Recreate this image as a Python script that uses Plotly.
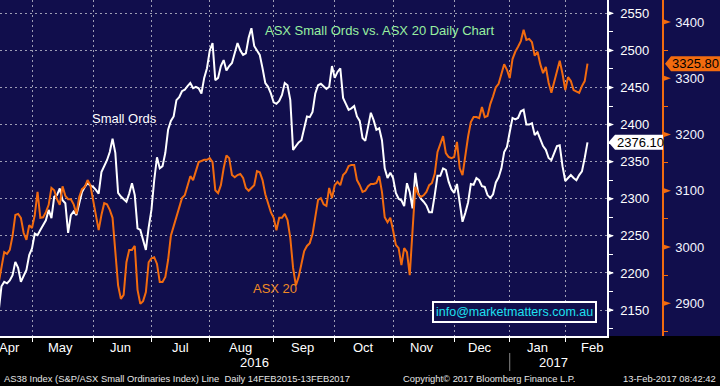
import plotly.graph_objects as go

# ---------------- data ----------------
dates = [
    "2016-04-13", "2016-04-14", "2016-04-15", "2016-04-18", "2016-04-19", "2016-04-20", "2016-04-21", "2016-04-22",
    "2016-04-26", "2016-04-27", "2016-04-28", "2016-04-29",
    "2016-05-02", "2016-05-03", "2016-05-04", "2016-05-05", "2016-05-06", "2016-05-09", "2016-05-10", "2016-05-11",
    "2016-05-12", "2016-05-13", "2016-05-16", "2016-05-17", "2016-05-18", "2016-05-19", "2016-05-20", "2016-05-23",
    "2016-05-24", "2016-05-25", "2016-05-26", "2016-05-27", "2016-05-30", "2016-05-31",
    "2016-06-01", "2016-06-02", "2016-06-03", "2016-06-06", "2016-06-07", "2016-06-08", "2016-06-09", "2016-06-10",
    "2016-06-14", "2016-06-15", "2016-06-16", "2016-06-17", "2016-06-20", "2016-06-21", "2016-06-22", "2016-06-23",
    "2016-06-24", "2016-06-27", "2016-06-28", "2016-06-29", "2016-06-30",
    "2016-07-01", "2016-07-04", "2016-07-05", "2016-07-06", "2016-07-07", "2016-07-08", "2016-07-11", "2016-07-12",
    "2016-07-13", "2016-07-14", "2016-07-15", "2016-07-18", "2016-07-19", "2016-07-20", "2016-07-21", "2016-07-22",
    "2016-07-25", "2016-07-26", "2016-07-27", "2016-07-28", "2016-07-29",
    "2016-08-01", "2016-08-02", "2016-08-03", "2016-08-04", "2016-08-05", "2016-08-08", "2016-08-09", "2016-08-10",
    "2016-08-11", "2016-08-12", "2016-08-15", "2016-08-16", "2016-08-17", "2016-08-18", "2016-08-19", "2016-08-22",
    "2016-08-23", "2016-08-24", "2016-08-25", "2016-08-26", "2016-08-29", "2016-08-30", "2016-08-31",
    "2016-09-01", "2016-09-02", "2016-09-05", "2016-09-06", "2016-09-07", "2016-09-08", "2016-09-09", "2016-09-12",
    "2016-09-13", "2016-09-14", "2016-09-15", "2016-09-16", "2016-09-19", "2016-09-20", "2016-09-21", "2016-09-22",
    "2016-09-23", "2016-09-26", "2016-09-27", "2016-09-28", "2016-09-29", "2016-09-30",
    "2016-10-03", "2016-10-04", "2016-10-05", "2016-10-06", "2016-10-07", "2016-10-10", "2016-10-11", "2016-10-12",
    "2016-10-13", "2016-10-14", "2016-10-17", "2016-10-18", "2016-10-19", "2016-10-20", "2016-10-21", "2016-10-24",
    "2016-10-25", "2016-10-26", "2016-10-27", "2016-10-28", "2016-10-31",
    "2016-11-01", "2016-11-02", "2016-11-03", "2016-11-04", "2016-11-07", "2016-11-08", "2016-11-09", "2016-11-10",
    "2016-11-11", "2016-11-14", "2016-11-15", "2016-11-16", "2016-11-17", "2016-11-18", "2016-11-21", "2016-11-22",
    "2016-11-23", "2016-11-24", "2016-11-25", "2016-11-28", "2016-11-29", "2016-11-30",
    "2016-12-01", "2016-12-02", "2016-12-05", "2016-12-06", "2016-12-07", "2016-12-08", "2016-12-09", "2016-12-12",
    "2016-12-13", "2016-12-14", "2016-12-15", "2016-12-16", "2016-12-19", "2016-12-20", "2016-12-21", "2016-12-22",
    "2016-12-23", "2016-12-28", "2016-12-29", "2016-12-30",
    "2017-01-03", "2017-01-04", "2017-01-05", "2017-01-06", "2017-01-09", "2017-01-10", "2017-01-11", "2017-01-12",
    "2017-01-13", "2017-01-16", "2017-01-17", "2017-01-18", "2017-01-19", "2017-01-20", "2017-01-23", "2017-01-24",
    "2017-01-25", "2017-01-27", "2017-01-30", "2017-01-31",
    "2017-02-01", "2017-02-02", "2017-02-03", "2017-02-06", "2017-02-07", "2017-02-08", "2017-02-09", "2017-02-10",
    "2017-02-13",
]

small_ords = [
    2148, 2182, 2188, 2186, 2190, 2197, 2215, 2207,
    2188, 2196, 2204, 2224,
    2233, 2253, 2251, 2258, 2265, 2271, 2285, 2274,
    2303, 2305, 2314, 2298, 2294, 2254, 2278, 2283,
    2278, 2292, 2309, 2316, 2321, 2318,
    2316, 2312, 2307, 2336, 2343, 2352, 2363, 2381,
    2362, 2308, 2303, 2300, 2296, 2307, 2321, 2305,
    2260, 2258, 2244, 2231, 2261,
    2285, 2325, 2356, 2341, 2344, 2362, 2393, 2405,
    2411, 2433, 2437, 2445, 2447, 2452, 2456, 2449,
    2451, 2449, 2442, 2463, 2476,
    2500, 2510, 2460, 2463, 2479, 2487, 2473, 2479,
    2483, 2498, 2510, 2500, 2494, 2496, 2517, 2530,
    2506, 2500, 2494, 2476, 2456, 2451, 2442,
    2430, 2428, 2432, 2440, 2456, 2453, 2433, 2366,
    2371, 2376, 2379, 2395, 2411, 2410, 2417, 2442,
    2453, 2455, 2451, 2448, 2451, 2479,
    2463, 2471, 2476, 2436, 2428, 2420, 2422, 2425,
    2411, 2405, 2382, 2378, 2397, 2416, 2406, 2393,
    2395, 2379, 2341, 2328, 2335,
    2328, 2308, 2300, 2298, 2290, 2321, 2309, 2287,
    2335, 2308, 2300, 2296, 2291, 2282, 2282, 2305,
    2331, 2331, 2341, 2339, 2323, 2313,
    2308, 2320, 2293, 2269, 2281, 2295, 2320, 2319,
    2328, 2325, 2317, 2316, 2305, 2301, 2306, 2322,
    2329, 2341, 2363, 2370,
    2390, 2409, 2407, 2409, 2418, 2420, 2400, 2400,
    2402, 2386, 2390, 2379, 2371, 2366, 2355, 2352,
    2363, 2371, 2372, 2344,
    2324, 2328, 2332, 2328, 2325, 2332, 2337, 2355,
    2376.10,
]

asx20 = [
    2936, 2963, 2991, 2988, 2995, 3020, 3057, 3059,
    3052, 3025, 3013, 3039,
    3034, 3057, 3098, 3052, 3053, 3062, 3075, 3105,
    3101, 3085, 3075, 3108, 3091, 3085, 3085, 3076,
    3059, 3089, 3103, 3107, 3119, 3110,
    3085, 3057, 3030, 3057, 3078, 3076, 3066, 3052,
    2995, 2932, 2908, 2915, 2973, 2995, 2995, 3002,
    2924, 2899, 2904, 2920, 2973,
    2980, 2982, 2970, 2938, 2938, 2947, 2977, 3020,
    3037, 3057, 3073, 3087, 3092, 3108, 3126, 3119,
    3135, 3151, 3153, 3155, 3155,
    3158, 3151, 3101, 3096, 3110, 3140, 3163, 3158,
    3128, 3124, 3128, 3130, 3123, 3105, 3100, 3105,
    3110, 3135, 3133, 3119, 3094, 3078, 3062,
    3052, 3030, 3052, 3052, 3059, 3048, 3016, 2963,
    2932, 2947, 2970, 2993, 3002, 3007, 3023, 3055,
    3084, 3087, 3076, 3073, 3105, 3087,
    3110, 3116, 3110, 3128, 3133, 3144, 3146, 3146,
    3119, 3110, 3098, 3100, 3108, 3112, 3112, 3114,
    3126, 3098, 3053, 3044, 3052,
    3030, 3004, 2998, 2968, 2998, 2991, 2950, 3039,
    3107, 3094, 3089, 3092, 3098, 3110, 3114, 3130,
    3169, 3183, 3197, 3167, 3160, 3158,
    3160, 3187, 3140, 3128, 3164, 3196, 3222, 3231,
    3231, 3229, 3249, 3231, 3233, 3254, 3268, 3284,
    3290, 3306, 3325, 3315,
    3300, 3334, 3347, 3356, 3366, 3386, 3368, 3370,
    3364, 3340, 3347, 3325, 3309, 3320, 3292, 3274,
    3293, 3308, 3331, 3308,
    3279, 3302, 3295, 3279, 3277, 3274, 3286, 3295,
    3325.80,
]

# ASX closed days (removed from the time axis, as in the terminal chart)
holidays = ["2016-04-25", "2016-06-13", "2016-12-26", "2016-12-27", "2017-01-02", "2017-01-26"]

so_tickvals = [2150, 2200, 2250, 2300, 2350, 2400, 2450, 2500, 2550]
asx_tickvals = [2900, 3000, 3100, 3200, 3300, 3400]

month_labels = ["Apr", "May", "Jun", "Jul", "Aug", "Sep", "Oct", "Nov", "Dec", "Jan", "Feb"]
month_label_pos = ["2016-04-19", "2016-05-16 10:00", "2016-06-16", "2016-07-15 08:00", "2016-08-16",
                   "2016-09-15 12:00", "2016-10-17 05:00", "2016-11-15 10:00", "2016-12-14 07:00",
                   "2017-01-17", "2017-02-14 14:00"]
month_starts = ["2016-05-02", "2016-06-01", "2016-07-01", "2016-08-01", "2016-09-01", "2016-10-03",
                "2016-11-01", "2016-12-01", "2017-01-03", "2017-02-01"]
year_labels = ["2016", "2017"]
year_label_pos = ["2016-08-23", "2017-01-24 14:00"]

last_so = small_ords[-1]
last_asx = asx20[-1]

# ---------------- styling ----------------
NAVY = "#110e4c"
ORANGE = "#f26b0f"
W, H = 720, 386
PLOT_W, PLOT_H = 607, 336
FONT = "Liberation Sans, Arial, sans-serif"


def px(x):
    return x / W


def py(y):
    return (PLOT_H - y) / PLOT_H


grid = dict(gridcolor="rgba(205,205,215,0.75)", griddash="2px,3px", gridwidth=1)

fig = go.Figure()
fig.add_trace(go.Scatter(x=dates, y=asx20, yaxis="y2", mode="lines",
                         line=dict(color=ORANGE, width=2), name="ASX 20", hoverinfo="skip"))
fig.add_trace(go.Scatter(x=dates, y=small_ords, mode="lines",
                         line=dict(color="white", width=2), name="Small Ords", hoverinfo="skip"))

fig.update_layout(
    width=W, height=H,
    margin=dict(l=0, r=0, t=0, b=H - PLOT_H, autoexpand=False),
    paper_bgcolor="black", plot_bgcolor=NAVY, showlegend=False,
    font=dict(family=FONT, color="white", size=13),
    xaxis=dict(
        domain=[0, PLOT_W / W], type="date",
        range=["2016-04-13 11:30", "2017-02-22 00:30"],
        rangebreaks=[dict(bounds=["sat", "mon"]), dict(values=holidays)],
        showticklabels=False, ticks="", showgrid=False, zeroline=False,
        showline=True, linecolor="white", linewidth=1.5,
        minor=dict(tickmode="array", tickvals=month_starts, ticks="outside", ticklen=4,
                   tickcolor="white", showgrid=True, **grid),
    ),
    yaxis=dict(
        side="right", range=[2115, 2568], tickmode="array", tickvals=so_tickvals,
        ticks="", showgrid=True, **grid, zeroline=False,
        showline=True, linecolor="white", linewidth=1.5, ticklabelstandoff=9,
        tickfont=dict(size=13, color="white", family=FONT),
        minor=dict(dtick=25, ticks="outside", ticklen=4, tickcolor="white", showgrid=False),
    ),
    yaxis2=dict(
        overlaying="y", side="right", anchor="free", position=663 / W,
        range=[2842, 3439], tickmode="array", tickvals=asx_tickvals,
        ticks="", showgrid=False, zeroline=False,
        showline=True, linecolor=ORANGE, linewidth=1.5, ticklabelstandoff=9,
        tickfont=dict(size=13, color="#f4f4ff", family=FONT),
        minor=dict(dtick=50, ticks="outside", ticklen=4, tickcolor=ORANGE, showgrid=False),
    ),
)

shapes = [
    # navy panel behind the right-hand axes
    dict(type="rect", xref="paper", yref="paper", x0=PLOT_W / W, x1=1, y0=0, y1=1,
         fillcolor=NAVY, line=dict(width=0), layer="below"),
    # year separator under the axis
    dict(type="line", xref="x", yref="paper", x0=month_starts[8], x1=month_starts[8],
         y0=py(353), y1=py(371), line=dict(color="#8a8a8a", width=1)),
]
# tick triangles
for v in so_tickvals:
    shapes.append(dict(type="path", xref="paper", yref="y",
                       path=f"M {px(608)},{v + 3.2} L {px(614)},{v} L {px(608)},{v - 3.2} Z",
                       fillcolor="white", line=dict(width=0)))
for v in asx_tickvals:
    shapes.append(dict(type="path", xref="paper", yref="y2",
                       path=f"M {px(664)},{v + 4.3} L {px(671)},{v} L {px(664)},{v - 4.3} Z",
                       fillcolor=ORANGE, line=dict(width=0)))
# last-value tags
hw = 7.5 / 0.7418
shapes.append(dict(type="path", xref="paper", yref="y", layer="above",
                   path=(f"M {px(608.5)},{last_so} L {px(615)},{last_so + hw} L {px(663)},{last_so + hw} "
                         f"L {px(663)},{last_so - hw} L {px(615)},{last_so - hw} Z"),
                   fillcolor="white", line=dict(width=0)))
hw2 = 7.5 / 0.5626
shapes.append(dict(type="path", xref="paper", yref="y2", layer="above",
                   path=(f"M {px(665)},{last_asx} L {px(671)},{last_asx + hw2} L {px(720)},{last_asx + hw2} "
                         f"L {px(720)},{last_asx - hw2} L {px(671)},{last_asx - hw2} Z"),
                   fillcolor=ORANGE, line=dict(width=0)))
fig.update_layout(shapes=shapes)


def label(text, x, y, color, size=13, xref="paper", yref="paper", xanchor="center", **kw):
    return dict(text=text, x=x, y=y, xref=xref, yref=yref, xanchor=xanchor, yanchor="middle",
                showarrow=False, font=dict(color=color, size=size, family=FONT), **kw)


ann = []
ann.append(label("ASX Small Ords vs. ASX 20 Daily Chart", px(379), py(30), "#98f0a0"))
ann.append(label("Small Ords", px(124), py(119), "white"))
ann.append(label("ASX 20", px(275), py(288), "#f08a24"))
ann.append(label("info@marketmatters.com.au", px(514.5), py(311.5), "#1ee0f0", size=12.5,
                 bgcolor=NAVY, bordercolor="white", borderwidth=2, borderpad=2))
ann.append(label(f"{last_so:.2f}", px(640), last_so, "black", yref="y"))
ann.append(label(f"{last_asx:.2f}", px(695), last_asx, "black", yref="y2"))
for lab, pos in zip(month_labels, month_label_pos):
    ann.append(label(lab, pos, py(347), "white", xref="x"))
for lab, pos in zip(year_labels, year_label_pos):
    ann.append(label(lab, pos, py(362), "white", xref="x"))
ann.append(label("AS38 Index (S&P/ASX Small Ordinaries Index) Line  Daily 14FEB2015-13FEB2017",
                 px(2), py(378), "#e6e6e6", size=9.4, xanchor="left"))
ann.append(label("Copyright© 2017 Bloomberg Finance L.P.", px(401), py(378), "#e6e6e6", size=9.4,
                 xanchor="left"))
ann.append(label("13-Feb-2017 08:42:42", px(718), py(378), "#e6e6e6", size=9.4, xanchor="right"))
fig.update_layout(annotations=ann)

fig.write_html(
    "out.html",
    config={"displayModeBar": False},
    post_script="document.body.style.margin='0';document.body.style.padding='0';"
                "document.body.style.background='black';",
)
